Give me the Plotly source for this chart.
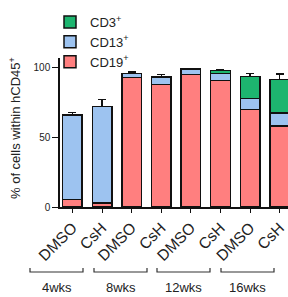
import plotly.graph_objects as go

labels = ["DMSO", "CsH", "DMSO", "CsH", "DMSO", "CsH", "DMSO", "CsH"]
groups = ["4wks", "8wks", "12wks", "16wks"]
cd19 = [5.5, 2.7, 93, 88, 95, 91, 70, 58]
cd19_err = [1.5, 1.5, 1, 1.5, 0.5, 1, 3.5, 3]
cd13 = [60.5, 69.5, 3, 5.5, 4, 5, 8, 9.5]
cd13_err = [2, 5, 1, 1.5, 0.5, 1, 1.5, 1.5]
cd3 = [None, None, None, None, None, 2, 15.7, 24]
cd3_err = [0, 0, 0, 0, 0, 0.5, 2, 4]

FONT = "Liberation Sans, Arial, sans-serif"
x = list(range(len(labels)))

def trace(name, y, err, color):
    return go.Bar(
        x=x, y=y, name=name,
        marker=dict(color=color, line=dict(color="#111111", width=1.5)),
        error_y=dict(type="data", symmetric=False, array=err,
                     arrayminus=[0] * len(err), color="#111111",
                     thickness=1.5, width=4),
    )

fig = go.Figure()
fig.add_trace(trace("CD19<sup>+</sup>", cd19, cd19_err, "#FF7F7F"))
fig.add_trace(trace("CD13<sup>+</sup>", cd13, cd13_err, "#9DC3F0"))
fig.add_trace(trace("CD3<sup>+</sup>", cd3, cd3_err, "#1DB56F"))

W, H = 288, 297
L, R, T, B = 60, 0, 58, 90
pw, ph = W - L - R, H - T - B

def px_x(p):
    return (p - L) / pw

def px_y(p):
    return (H - B - p) / ph

fig.update_layout(
    width=W, height=H,
    margin=dict(l=L, r=R, t=T, b=B, autoexpand=False),
    barmode="stack", bargap=0.34,
    plot_bgcolor="white", paper_bgcolor="white",
    font=dict(family=FONT, color="#222222"),
    showlegend=True,
    legend=dict(traceorder="reversed", x=px_x(50), y=px_y(7),
                xanchor="left", yanchor="top",
                font=dict(size=13, family=FONT), bgcolor="rgba(0,0,0,0)",
                itemclick=False, tracegroupgap=0),
    xaxis=dict(range=[-0.42, 7.28], tickvals=x, ticktext=labels,
               tickangle=-45, tickfont=dict(size=15.5, family=FONT),
               showline=True, linecolor="#111111", linewidth=1.5,
               ticks="outside", ticklen=4, tickwidth=1.2, tickcolor="#111111",
               showgrid=False, zeroline=False, automargin=False),
    yaxis=dict(range=[0, 107], tickvals=[0, 50, 100],
               tickfont=dict(size=10, family=FONT),
               showline=True, linecolor="#111111", linewidth=1.5,
               ticks="outside", ticklen=6, tickwidth=1.2, tickcolor="#111111",
               showgrid=False, zeroline=False, automargin=False),
)

fig.add_annotation(text="% of cells within hCD45<sup>+</sup>", textangle=-90,
                   xref="paper", yref="paper", x=px_x(15), y=px_y(128),
                   xanchor="center", yanchor="middle",
                   showarrow=False, font=dict(size=13, family=FONT))

bracket_left = [30, 94, 157, 221]
bw = 53
for gl, bl in zip(groups, bracket_left):
    x0, x1 = px_x(bl), px_x(bl + bw)
    yl, yt = px_y(272), px_y(268)
    fig.add_shape(type="path", xref="paper", yref="paper",
                  path=f"M {x0},{yt} L {x0},{yl} L {x1},{yl} L {x1},{yt}",
                  line=dict(color="#333333", width=1.2))
    fig.add_annotation(text=gl, xref="paper", yref="paper",
                       x=(x0 + x1) / 2, y=px_y(287),
                       xanchor="center", yanchor="middle", showarrow=False,
                       font=dict(size=13, family=FONT))

fig.write_html("out.html", config={"displayModeBar": False},
               post_script="document.body.style.margin='0';document.body.style.overflow='hidden';")
